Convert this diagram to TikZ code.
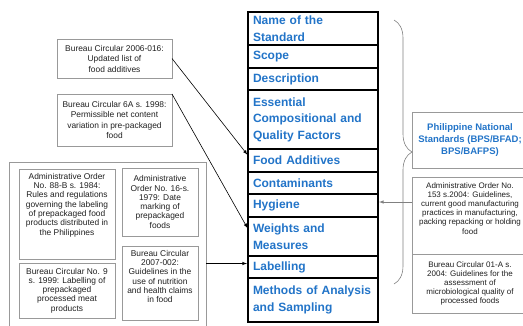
\documentclass[tikz,border=0pt]{standalone}
\usepackage{fontspec}
\setmainfont{Liberation Sans}
\usetikzlibrary{positioning,decorations.pathreplacing,arrows}
\definecolor{pnsblue}{RGB}{34,116,200}
\tikzstyle{stdrow}=[draw, line width=1.2pt, outer sep=0pt, text width=120pt, align=left, inner xsep=5pt, inner ysep=1pt, text=pnsblue, font=\bfseries\fontsize{12}{16.5}\selectfont]
\tikzstyle{gbox}=[draw=gray!80, line width=0.6pt, outer sep=0pt, text=black!88, align=center, inner sep=2pt, font=\fontsize{8.4}{9.3}\selectfont]
\tikzstyle{gtext}=[text=black!88, align=center, inner sep=0pt, font=\fontsize{8.4}{9.3}\selectfont]
\tikzstyle{link}=[->, >=latex, line width=0.6pt, shorten >=1pt]

\begin{document}
\begin{tikzpicture}[x=1pt, y=-1pt, node distance=22.5pt]
\useasboundingbox (0,0) rectangle (523,325);
\clip (0,0) rectangle (523,325);

% sections of the standard
\node[stdrow, minimum height=33pt] at (313,28.5) (name) {Name of the\\Standard};
\node[stdrow, minimum height=23pt, below of = name, node distance = 28pt] (scope) {Scope};
\node[stdrow, minimum height=22pt, below of = scope] (descr) {Description};
\node[stdrow, minimum height=59pt, below of = descr, node distance = 40.5pt] (essential) {Essential\\Compositional and\\Quality Factors};
\node[stdrow, minimum height=23pt, below of = essential, node distance = 41pt] (additives) {Food Additives};
\node[stdrow, minimum height=22pt, below of = additives] (contam) {Contaminants};
\node[stdrow, minimum height=23pt, below of = contam] (hygiene) {Hygiene};
\node[stdrow, minimum height=39pt, below of = hygiene, node distance = 31pt] (weights) {Weights and\\Measures};
\node[stdrow, minimum height=22pt, below of = weights, node distance = 30.5pt] (labelling) {Labelling};
\node[stdrow, minimum height=44pt, below of = labelling, node distance = 33pt] (methods) {Methods of Analysis\\and Sampling};
\draw[line width=2pt] (name.north west) rectangle (methods.south east);

% left side
\node[gbox, minimum width=115pt, minimum height=39pt, font=\fontsize{8.4}{10.5}\selectfont] at (114.5,58.5) (bc2006) {Bureau Circular 2006-016:\\Updated list of\\food additives};
\node[gbox, minimum width=115pt, minimum height=52pt, font=\fontsize{8.4}{10.5}\selectfont] at (114.5,120) (bc6a) {Bureau Circular 6A s. 1998:\\Permissible net content\\variation in pre-packaged\\food};

\node[gbox, minimum width=197pt, minimum height=173pt] at (107.5,249) (lblgroup) {};
\node[gbox, minimum width=96pt, minimum height=90pt] at (67,214) (ao88b) {};
\node[gtext, below=4pt of ao88b.north] (ao88btxt) {Administrative Order\\No. 88-B s. 1984:\\Rules and regulations\\governing the labeling\\of prepackaged food\\products distributed in\\the Philippines};
\node[gbox, minimum width=76pt, minimum height=68pt] at (160,202) (ao16) {Administrative\\Order No. 16-s.\\1979: Date\\marking of\\prepackaged\\foods};
\node[gbox, minimum width=96pt, minimum height=55pt] at (67,290.5) (bc9) {Bureau Circular No. 9\\s. 1999: Labelling of\\prepackaged\\processed meat\\products};
\node[gbox, minimum width=76pt, minimum height=74pt] at (160,283) (bc2007) {};
\node[gtext, below=4pt of bc2007.north] (bc2007txt) {Bureau Circular\\2007-002:\\Guidelines in the\\use of nutrition\\and health claims\\in food};

% right side
\node[gbox, minimum width=116pt, minimum height=56pt, text=pnsblue, font=\bfseries\fontsize{9.5}{12}\selectfont] at (470,140) (pns) {Philippine National\\Standards (BPS/BFAD;\\BPS/BAFPS)};
\node[gbox, minimum width=116pt, minimum height=77pt] at (470,215.5) (ao153) {};
\node[gtext, below=5pt of ao153.north, font=\fontsize{8}{9.2}\selectfont] (ao153txt) {Administrative Order No.\\153 s.2004: Guidelines,\\current good manufacturing\\practices in manufacturing,\\packing repacking or holding\\food};
\node[gbox, minimum width=116pt, minimum height=59pt, font=\fontsize{8}{9.2}\selectfont] at (470,283.5) (bc01a) {Bureau Circular 01-A s.\\2004: Guidelines for the\\assessment of\\microbiological quality of\\processed foods};

\coordinate (bracetop) at (394,20);
\coordinate (bracebot) at (394,284);
\draw[gray, line width=0.6pt, decorate, decoration={brace, amplitude=18pt}] (bracetop) -- (bracebot);

% links
\coordinate (lblin) at ([yshift=3.5pt]labelling.west);
\coordinate (hygin) at ([yshift=3.5pt]hygiene.east);
\draw[link] (bc2006.east) -- ([yshift=5pt]additives.west);
\draw[link] (bc6a.north east) -- ([yshift=7.5pt]weights.west);
\draw[link] (lblgroup.east |- lblin) -- (lblin);
\draw[link, gray] (ao153.west |- hygin) -- (hygin);
\end{tikzpicture}
\end{document}
